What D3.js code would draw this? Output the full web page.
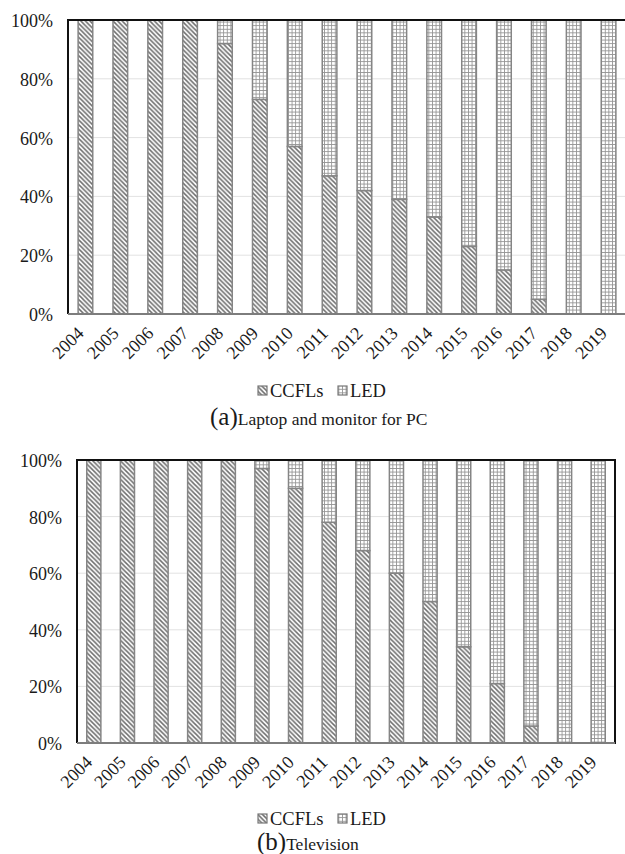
<!DOCTYPE html>
<html>
<head>
<meta charset="utf-8">
<script src="https://cdnjs.cloudflare.com/ajax/libs/d3/7.8.5/d3.min.js"></script>
<style>
  html, body { margin: 0; padding: 0; background: #fff; }
  svg { display: block; }
  svg text { font-family: "Liberation Serif", "Times New Roman", "DejaVu Serif", serif; fill: #1a1a1a; }
</style>
</head>
<body>
<svg id="chart" width="625" height="854"></svg>
<script>
// Share of backlight technology by year (percent)
const years = ["2004","2005","2006","2007","2008","2009","2010","2011","2012","2013","2014","2015","2016","2017","2018","2019"];
const pcCCFL = [100,100,100,100,92,73,57,47,42,39,33,23,15,5,0,0];
const pcLED  = [0,0,0,0,8,27,43,53,58,61,67,77,85,95,100,100];
const tvCCFL = [100,100,100,100,100,97,90,78,68,60,50,34,21,6,0,0];
const tvLED  = [0,0,0,0,0,3,10,22,32,40,50,66,79,94,100,100];
const yTicks = [0,20,40,60,80,100];
const yTickLabels = ["0%","20%","40%","60%","80%","100%"];
const seriesNames = ["CCFLs","LED"];

const SERIF = "'Liberation Serif', 'Times New Roman', 'DejaVu Serif', serif";

const svg = d3.select("#chart").attr("font-family", SERIF);
const defs = svg.append("defs");

// Diagonal hatch for CCFLs
const hatch = defs.append("pattern")
  .attr("id","hatch").attr("patternUnits","userSpaceOnUse")
  .attr("width",4.6).attr("height",4.6);
hatch.append("rect").attr("width",4.6).attr("height",4.6).attr("fill","#fff");
hatch.append("path")
  .attr("d","M-1,-1 L5.6,5.6 M-1,3.6 L1,5.6 M3.6,-1 L5.6,1")
  .attr("stroke","#6e6e6e").attr("stroke-width",1.5);

// Small grid for LED
const grid = defs.append("pattern")
  .attr("id","grid").attr("patternUnits","userSpaceOnUse")
  .attr("width",3.6).attr("height",3.6);
grid.append("rect").attr("width",3.6).attr("height",3.6).attr("fill","#fff");
grid.append("path")
  .attr("d","M0,0.4 H3.6 M0.4,0 V3.6")
  .attr("stroke","#959595").attr("stroke-width",0.95);

function drawPanel(cfg) {
  const { ccfl, led, left, right, top, bottom, yLabelX, rightBorder } = cfg;
  const g = svg.append("g");

  const x = d3.scaleBand().domain(years).range([left, right])
    .paddingInner(0.58).paddingOuter(0.29);
  const y = d3.scaleLinear().domain([0, 100]).range([bottom, top]);

  // gridlines
  g.append("g").selectAll("line").data(yTicks.slice(1, -1)).join("line")
    .attr("x1", left).attr("x2", right)
    .attr("y1", d => y(d)).attr("y2", d => y(d))
    .attr("stroke", "#e2e2e2").attr("stroke-width", 1);

  // y tick labels
  const yAxis = d3.axisLeft(y).tickValues(yTicks)
    .tickFormat((d, i) => yTickLabels[i]).tickSize(0).tickPadding(0);
  const ya = g.append("g").attr("transform", `translate(${yLabelX},0)`).call(yAxis)
    .attr("font-family", SERIF);
  ya.select(".domain").remove();
  ya.selectAll("text").attr("font-size", 18).attr("fill", "#1a1a1a").attr("dy", "0.36em");

  const rows = years.map((yr, i) => ({ year: yr, ccfl: ccfl[i], led: led[i] }));
  const stack = d3.stack().keys(["ccfl", "led"])(rows);
  const fills = ["url(#hatch)", "url(#grid)"];

  stack.forEach((layer, k) => {
    g.append("g").selectAll("rect")
      .data(layer.filter(d => d[1] - d[0] > 0)).join("rect")
      .attr("x", d => x(d.data.year))
      .attr("width", x.bandwidth())
      .attr("y", d => y(d[1]))
      .attr("height", d => y(d[0]) - y(d[1]))
      .attr("fill", fills[k])
      .attr("stroke", "#858585").attr("stroke-width", 1.5);
  });

  // frame: black left/top (and right), gray baseline
  g.append("line").attr("x1", left).attr("x2", right).attr("y1", top).attr("y2", top)
    .attr("stroke", "#111").attr("stroke-width", 2);
  g.append("line").attr("x1", left).attr("x2", left).attr("y1", top - 1).attr("y2", bottom)
    .attr("stroke", "#111").attr("stroke-width", 2);
  if (rightBorder) {
    g.append("line").attr("x1", right).attr("x2", right).attr("y1", top - 1).attr("y2", bottom + 1)
      .attr("stroke", "#111").attr("stroke-width", 2);
  }
  g.append("line").attr("x1", left).attr("x2", right).attr("y1", bottom).attr("y2", bottom)
    .attr("stroke", "#7d7d7d").attr("stroke-width", 2.2);

  // rotated year labels
  g.append("g").selectAll("text").data(years).join("text")
    .attr("transform", d => `translate(${x(d) + x.bandwidth() / 2 - 5},${bottom + 16}) rotate(-45)`)
    .attr("text-anchor", "end").attr("dy", "0.35em")
    .attr("font-size", 18)
    .text(d => d);

  // legend
  const ly = cfg.legendY;
  const lg = g.append("g");
  lg.append("rect").attr("x", 258).attr("y", ly - 11).attr("width", 9).attr("height", 9)
    .attr("fill", "url(#hatch)").attr("stroke", "#777").attr("stroke-width", 1.2);
  lg.append("text").attr("x", 270).attr("y", ly).attr("font-size", 18.5).text(seriesNames[0]);
  lg.append("rect").attr("x", 338).attr("y", ly - 11).attr("width", 9).attr("height", 9)
    .attr("fill", "url(#grid)").attr("stroke", "#777").attr("stroke-width", 1.2);
  lg.append("text").attr("x", 350).attr("y", ly).attr("font-size", 18.5).text(seriesNames[1]);

  // caption
  const cap = g.append("text").attr("x", cfg.captionX).attr("y", cfg.captionY);
  cap.append("tspan").attr("font-size", 25).text(cfg.captionTag);
  cap.append("tspan").attr("font-size", 17.5).text(cfg.captionText);
}

drawPanel({
  ccfl: pcCCFL, led: pcLED,
  left: 68, right: 626, top: 20, bottom: 314, yLabelX: 53, rightBorder: false,
  legendY: 397, captionX: 210, captionY: 425,
  captionTag: "(a)", captionText: "Laptop and monitor for PC"
});

drawPanel({
  ccfl: tvCCFL, led: tvLED,
  left: 77, right: 615, top: 460, bottom: 743, yLabelX: 62, rightBorder: true,
  legendY: 825, captionX: 257, captionY: 850,
  captionTag: "(b)", captionText: "Television"
});
</script>
</body>
</html>
